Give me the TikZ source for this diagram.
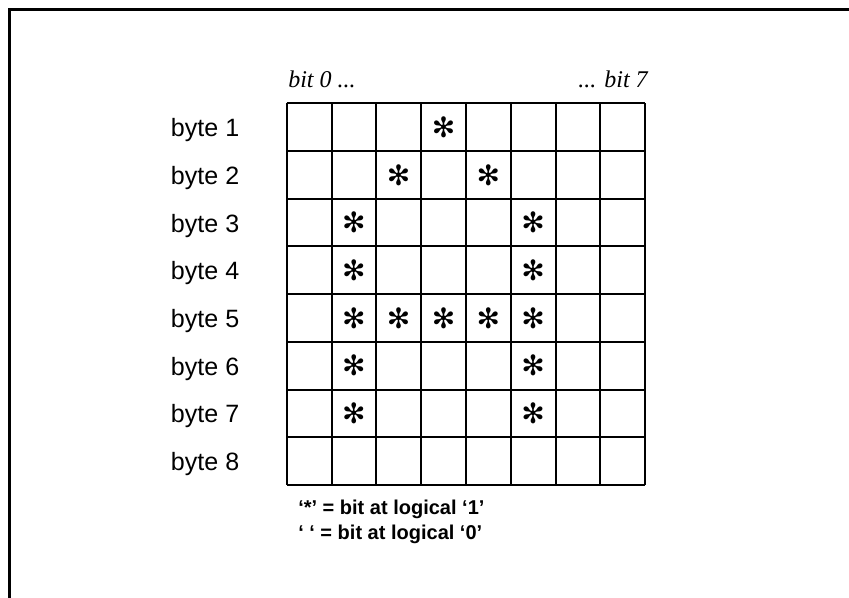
\documentclass[tikz,border=0pt]{standalone}
\usepackage{fontspec}
\setmainfont{Liberation Serif}
\setsansfont{Liberation Sans}
\newfontfamily\symfont{DejaVu Sans}

\tikzset{
  cellline/.style={line width=1.5},
  bytelabel/.style={anchor=base west, inner sep=0pt, font=\sffamily\fontsize{18.8}{18.8}\selectfont},
  bitlabel/.style={anchor=base west, inner sep=0pt, font=\itshape\fontsize{18}{18}\selectfont},
  setbit/.style={inner sep=0pt, font=\symfont\fontsize{21}{21}\selectfont},
  legendtext/.style={anchor=base west, inner sep=0pt, font=\sffamily\bfseries\fontsize{15}{15}\selectfont},
}

\begin{document}
\begin{tikzpicture}[x=0.75pt,y=0.75pt,yscale=-1,xscale=1]
\useasboundingbox (0,0) rectangle (849,597);
%Frame
\begin{scope}
\clip (0,0) rectangle (849,597);
\draw [line width=2.25] (9,9) rectangle (880,630);
\end{scope}
%Grid lines
\foreach \i in {0,...,8}
  \draw [cellline] ({286.7+44.8*\i},103.3) -- ({286.7+44.8*\i},485);
\foreach \j in {0,...,8}
  \draw [cellline] (286.7,{103.3+47.7*\j}) -- (645,{103.3+47.7*\j});

% Text Node
\node [bitlabel] (bitfirst) at (288,87) {bit 0 ...};
% Text Node
\node [bitlabel, anchor=base east] (bitlast) at (648,87) {... bit 7};
% Byte labels
\foreach \r in {1,...,8}
  \node [bytelabel] (byte\r) at (170.7,{103.3+47.7*(\r-0.5)+9.5}) {byte \r};
% Set bits
\foreach \r/\c in {1/3,2/2,2/4,3/1,3/5,4/1,4/5,5/1,5/2,5/3,5/4,5/5,6/1,6/5,7/1,7/5}
  \node [setbit] (bit\r\c) at ({286.7+44.8*(\c+0.5)},{103.3+47.7*(\r-0.5)}) {✻};
% Text Node
\node [legendtext] (legendone) at (298,514) {‘*’ = bit at logical ‘1’};
% Text Node
\node [legendtext] (legendzero) at (298,539) {‘ ‘ = bit at logical ‘0’};
\end{tikzpicture}
\end{document}
